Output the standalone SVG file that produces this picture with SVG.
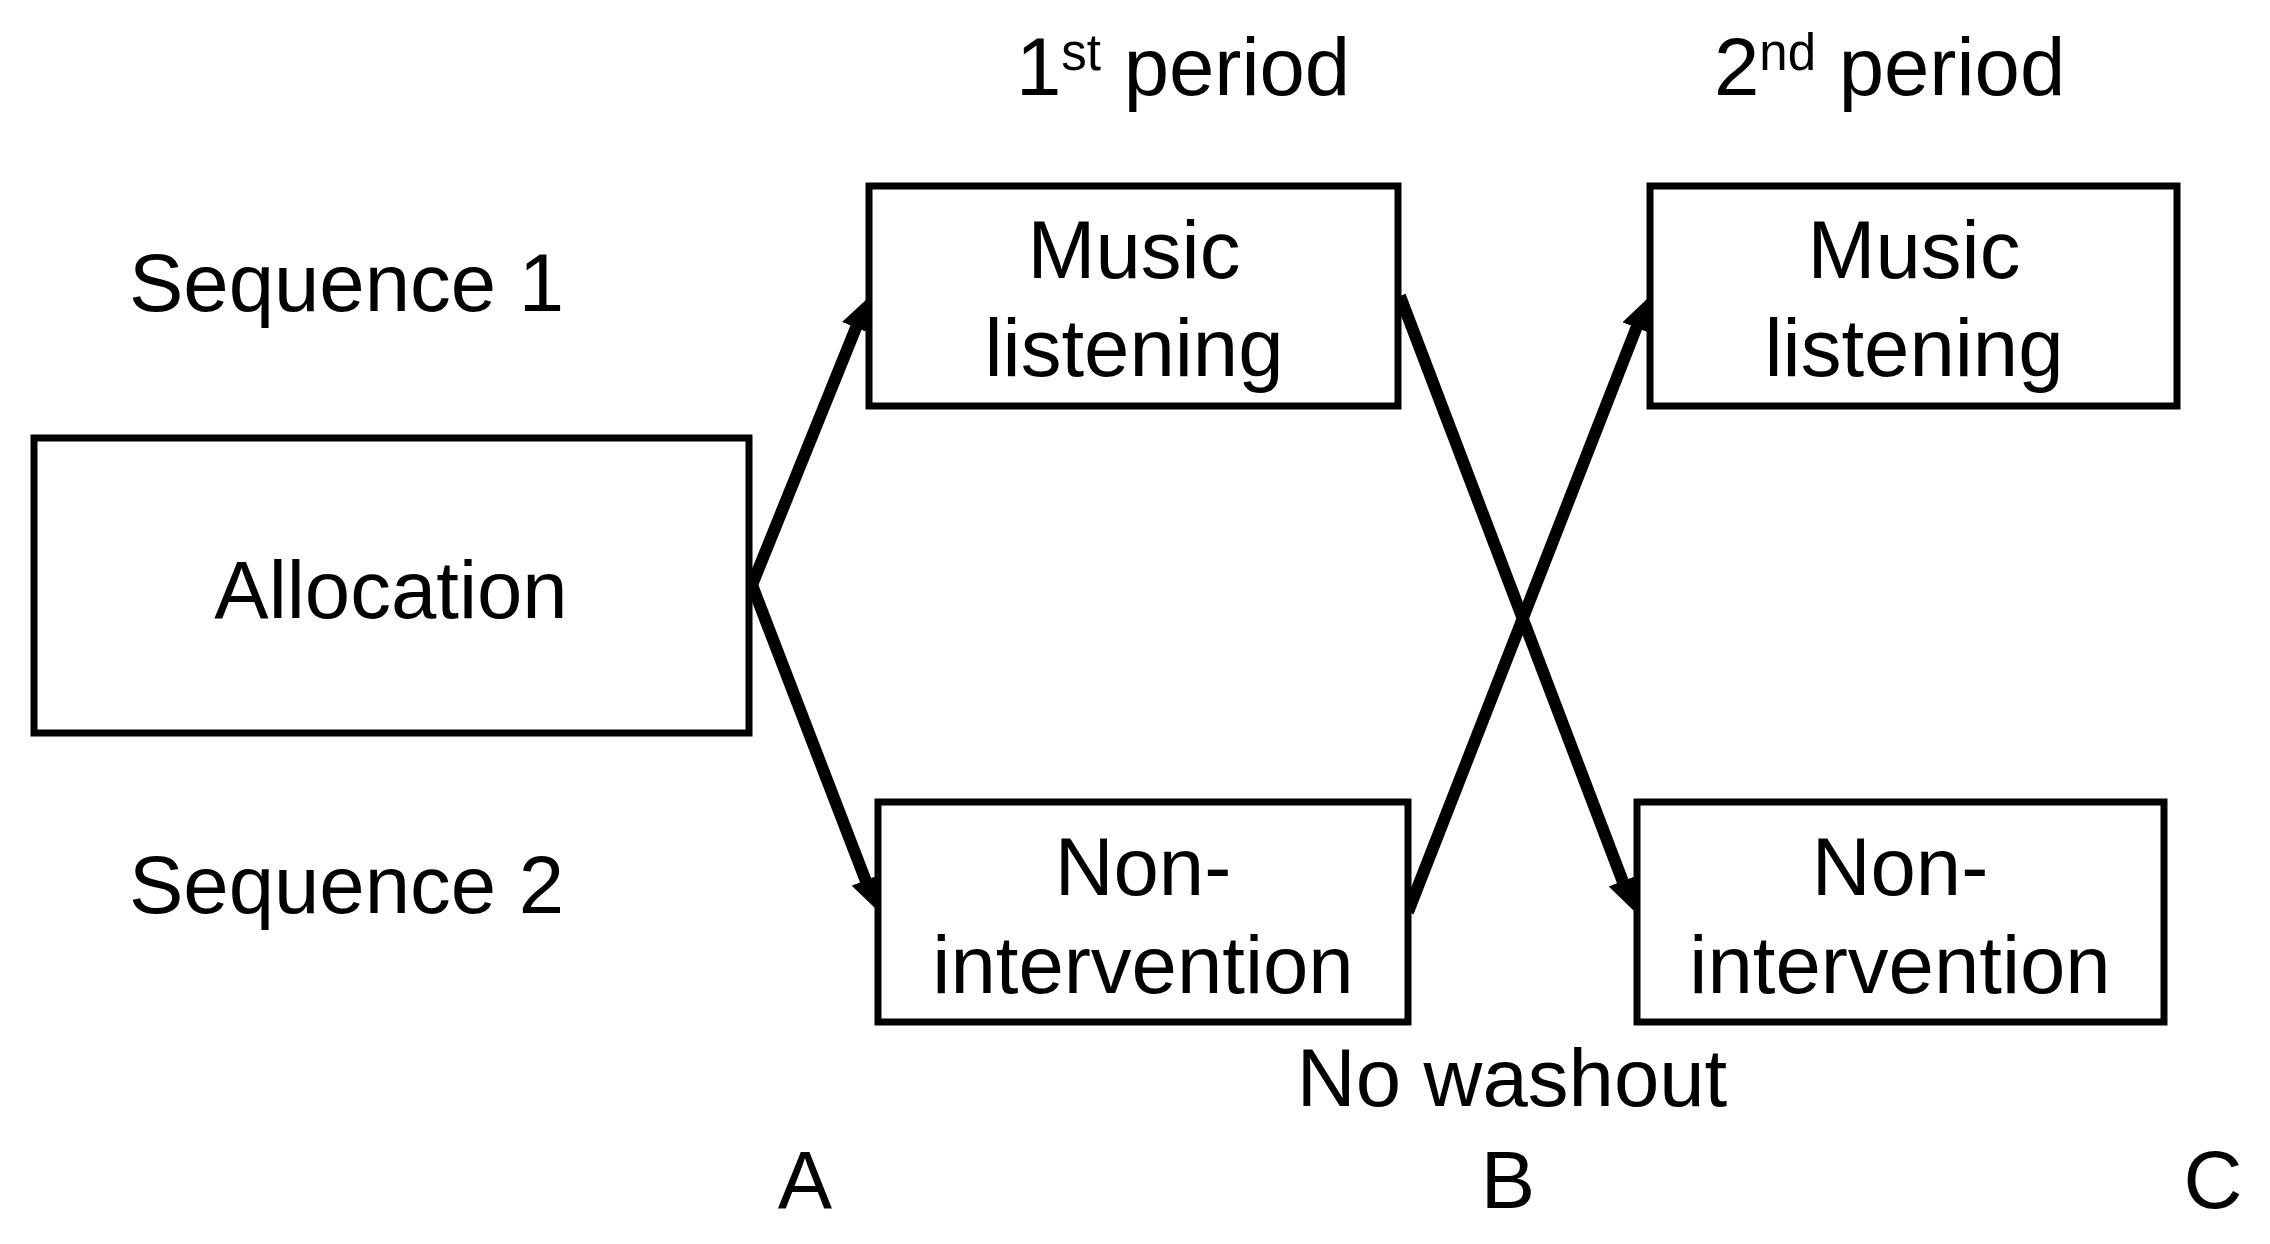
<svg xmlns="http://www.w3.org/2000/svg" width="2270" height="1244" viewBox="0 0 2270 1244">
<style>
text{font-family:"Liberation Sans",Arial,sans-serif;font-size:81.5px;fill:#000}
.box{fill:#fff;stroke:#000;stroke-width:7}
.conn{stroke:#000;stroke-width:12;fill:none;marker-end:url(#ah)}
.mid{text-anchor:middle}
</style>
<defs>
<marker id="ah" markerUnits="userSpaceOnUse" markerWidth="32" markerHeight="30" refX="16" refY="15" orient="auto">
<path d="M0,0 L32,15 L0,30 z" fill="#000"/>
</marker>
</defs>
<rect width="2270" height="1244" fill="#fff"/>
<g id="connectors">
<line class="conn" x1="752" y1="585" x2="862" y2="312.8"/>
<line class="conn" x1="752" y1="585" x2="871.3" y2="895.1"/>
<line class="conn" x1="1400" y1="296" x2="1628.3" y2="896"/>
<line class="conn" x1="1408" y1="912" x2="1642.2" y2="312.9"/>
</g>
<g id="allocation">
<rect class="box" x="34" y="438" width="715" height="295"/>
<text class="mid" x="391" y="618">Allocation</text>
</g>
<g id="music1">
<rect class="box" x="869" y="186" width="529" height="220"/>
<text class="mid" x="1134" y="278">Music</text>
<text class="mid" x="1134" y="376">listening</text>
</g>
<g id="music2">
<rect class="box" x="1650" y="186" width="527" height="220"/>
<text class="mid" x="1914" y="278">Music</text>
<text class="mid" x="1914" y="376">listening</text>
</g>
<g id="non1">
<rect class="box" x="878" y="802" width="530" height="220"/>
<text class="mid" x="1143" y="895">Non-</text>
<text class="mid" x="1143" y="993">intervention</text>
</g>
<g id="non2">
<rect class="box" x="1637" y="802" width="527" height="220"/>
<text class="mid" x="1900" y="895">Non-</text>
<text class="mid" x="1900" y="993">intervention</text>
</g>
<g id="labels">
<text x="1016" y="95">1<tspan font-size="51" dy="-25">st</tspan><tspan dy="25"> period</tspan></text>
<text x="1714" y="95">2<tspan font-size="51" dy="-25">nd</tspan><tspan dy="25"> period</tspan></text>
<text x="129" y="311">Sequence 1</text>
<text x="129" y="913">Sequence 2</text>
<text class="mid" x="1512" y="1106">No washout</text>
<text class="mid" x="805" y="1208">A</text>
<text class="mid" x="1508" y="1208">B</text>
<text class="mid" x="2213" y="1208">C</text>
</g>
</svg>
